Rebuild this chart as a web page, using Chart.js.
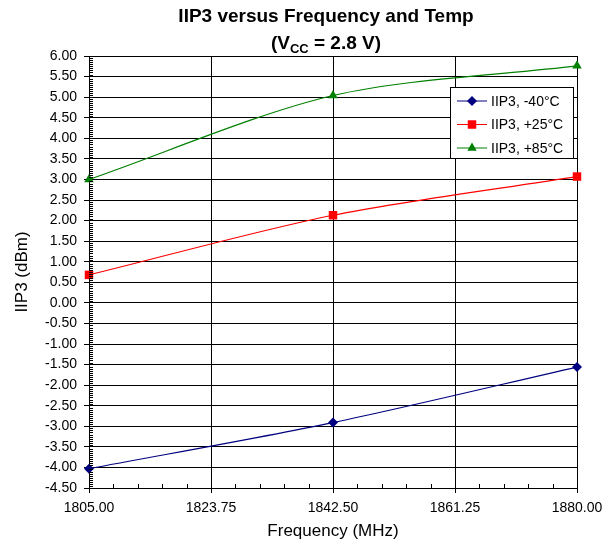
<!DOCTYPE html>
<html>
<head>
<meta charset="utf-8">
<style>
  body { margin: 0; background: #fff; }
  #wrap { width: 613px; height: 542px; }
</style>
</head>
<body>
<div id="wrap"><canvas id="iip3Chart" width="613" height="542"></canvas></div>

<script src="https://cdn.jsdelivr.net/npm/chart.js@4.4.1/dist/chart.umd.min.js"></script>
<script>
    // values
    const freqs = [1805, 1842.5, 1880]
    const xTicks = [1805, 1823.75, 1842.5, 1861.25, 1880]
    const seriesNames = ['IIP3, -40°C', 'IIP3, +25°C', 'IIP3, +85°C']
    const iip3Minus40 = [-4.03, -2.91, -1.56]
    const iip3Plus25 = [0.68, 2.13, 3.07]
    const iip3Plus85 = [3.00, 5.04, 5.76]

    const FONT = "'Liberation Sans', Arial, sans-serif"
    const colors = ['#000080', '#ff0000', '#008000']
    const markers = ['rectRot', 'rect', 'triangle']
    const markerSizes = [5, 6, 5.5]

    const toPoints = ys => ys.map((y, i) => ({x: freqs[i], y: y}))

    // two-line title with the subscript in V_CC
    const titlePlugin = {
        id: 'twoLineTitle',
        afterDraw(chart) {
            const ctx = chart.ctx
            const cx = 326
            ctx.save()
            ctx.fillStyle = '#000'
            ctx.textBaseline = 'middle'
            ctx.textAlign = 'center'
            ctx.font = 'bold 19px ' + FONT
            ctx.fillText('IIP3 versus Frequency and Temp', cx, 17)

            // second line: (V_CC = 2.8 V)
            const a = '(V', sub = 'CC', b = ' = 2.8 V)'
            ctx.font = 'bold 19px ' + FONT
            const wa = ctx.measureText(a).width
            const wb = ctx.measureText(b).width
            ctx.font = 'bold 13px ' + FONT
            const ws = ctx.measureText(sub).width
            let x = cx - (wa + ws + wb) / 2
            ctx.textAlign = 'left'
            ctx.font = 'bold 19px ' + FONT
            ctx.fillText(a, x, 44)
            x += wa
            ctx.font = 'bold 13px ' + FONT
            ctx.fillText(sub, x, 49)
            x += ws
            ctx.font = 'bold 19px ' + FONT
            ctx.fillText(b, x, 44)
            ctx.restore()
        }
    }

    // small inside ticks between the labelled ones
    const minorTickPlugin = {
        id: 'minorTicks',
        afterDraw(chart) {
            const ctx = chart.ctx
            const xs = chart.scales.x, ys = chart.scales.y
            const area = chart.chartArea
            ctx.save()
            ctx.strokeStyle = '#000'
            ctx.lineWidth = 1
            ctx.beginPath()
            for (let i = 0; i <= 210; i++) {
                if (i % 10 === 0) continue
                const py = Math.round(ys.getPixelForValue(-4.5 + i * 0.05)) + 0.5
                ctx.moveTo(area.left, py)
                ctx.lineTo(area.left + 4, py)
            }
            for (let i = 0; i <= 20; i++) {
                if (i % 5 === 0) continue
                const px = Math.round(xs.getPixelForValue(1805 + i * 3.75)) + 0.5
                ctx.moveTo(px, area.bottom)
                ctx.lineTo(px, area.bottom - 4)
            }
            ctx.stroke()
            ctx.restore()
        }
    }

    function drawMarker(ctx, style, x, y, r) {
        ctx.beginPath()
        if (style === 'rectRot') {
            ctx.moveTo(x, y - r); ctx.lineTo(x + r, y); ctx.lineTo(x, y + r); ctx.lineTo(x - r, y)
        } else if (style === 'rect') {
            const s = r * Math.SQRT1_2
            ctx.rect(x - s, y - s, 2 * s, 2 * s)
        } else {
            ctx.moveTo(x, y - r); ctx.lineTo(x + r * 0.85, y + r * 0.5); ctx.lineTo(x - r * 0.85, y + r * 0.5)
        }
        ctx.closePath()
        ctx.fill()
    }

    // Excel style legend box: line + marker + text
    const legendPlugin = {
        id: 'boxLegend',
        afterDraw(chart) {
            const ctx = chart.ctx
            const bx = 450.5, by = 87.5, bw = 123, bh = 71
            ctx.save()
            ctx.fillStyle = '#fff'
            ctx.fillRect(bx, by, bw, bh)
            ctx.strokeStyle = '#000'
            ctx.lineWidth = 1
            ctx.strokeRect(bx, by, bw, bh)
            ctx.font = '14px ' + FONT
            ctx.textBaseline = 'middle'
            chart.data.datasets.forEach((ds, i) => {
                const y = 101 + i * 23.5
                ctx.strokeStyle = ds.borderColor
                ctx.beginPath()
                ctx.moveTo(457, y)
                ctx.lineTo(487, y)
                ctx.stroke()
                ctx.fillStyle = ds.borderColor
                drawMarker(ctx, markers[i], 472, y, markerSizes[i])
                ctx.fillStyle = '#000'
                ctx.fillText(ds.label, 491, y + 1)
            })
            ctx.restore()
        }
    }

    const datasets = [iip3Minus40, iip3Plus25, iip3Plus85].map((ys, i) => ({
        label: seriesNames[i],
        data: toPoints(ys),
        borderColor: colors[i],
        backgroundColor: colors[i],
        borderWidth: 1.2,
        pointStyle: markers[i],
        pointRadius: markerSizes[i],
        pointBorderWidth: 0,
        tension: 0.3,
        clip: false,
        fill: false
    }))

    const ctx = document.getElementById('iip3Chart').getContext('2d')
    const chart = new Chart(ctx, {
        type: 'line',
        data: { datasets: datasets },
        plugins: [titlePlugin, minorTickPlugin, legendPlugin],
        options: {
            responsive: false,
            maintainAspectRatio: false,
            animation: false,
            devicePixelRatio: 1,
            layout: { padding: { top: 56, right: 36, left: 0, bottom: 0 } },
            plugins: {
                legend: { display: false },
                title: { display: false },
                tooltip: { enabled: false }
            },
            scales: {
                x: {
                    type: 'linear',
                    min: 1805,
                    max: 1880,
                    afterBuildTicks: scale => { scale.ticks = xTicks.map(v => ({value: v})) },
                    afterFit: scale => { scale.height = 54 },
                    ticks: {
                        color: '#000',
                        font: { family: FONT, size: 14 },
                        padding: 7,
                        maxRotation: 0,
                        autoSkip: false,
                        callback: v => Number(v).toFixed(2)
                    },
                    grid: { color: '#000', lineWidth: 1, tickLength: 5, tickColor: '#000' },
                    border: { color: '#000', width: 1 },
                    title: {
                        display: true,
                        text: 'Frequency (MHz)',
                        color: '#000',
                        font: { family: FONT, size: 17 },
                        padding: { top: 0, bottom: 0 }
                    }
                },
                y: {
                    min: -4.5,
                    max: 6,
                    afterFit: scale => { scale.width = 89 },
                    ticks: {
                        stepSize: 0.5,
                        color: '#000',
                        font: { family: FONT, size: 14 },
                        padding: 7,
                        autoSkip: false,
                        callback: v => Number(v).toFixed(2)
                    },
                    grid: { color: '#000', lineWidth: 1, tickLength: 5, tickColor: '#000' },
                    border: { color: '#000', width: 1 },
                    title: {
                        display: true,
                        text: 'IIP3 (dBm)',
                        color: '#000',
                        font: { family: FONT, size: 17 },
                        padding: { top: 12, bottom: 0 }
                    }
                }
            }
        }
    })
</script>
</body>
</html>
